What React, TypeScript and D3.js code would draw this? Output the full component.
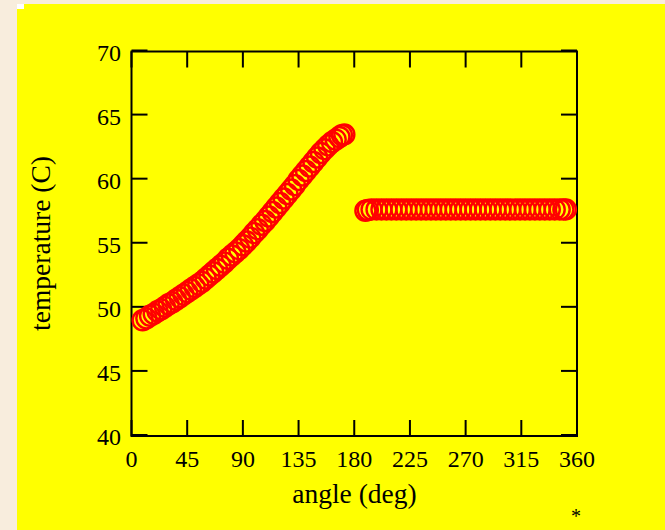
import React from "react";
import * as d3 from "d3";

const angles1 = [9, 12, 15, 18, 21, 24, 27, 30, 33, 36, 39, 42, 45, 48, 51, 54, 57, 60, 63, 66, 69, 72, 75, 78, 81, 84, 87, 90, 93, 96, 99, 102, 105, 108, 111, 114, 117, 120, 123, 126, 129, 132, 135, 138, 141, 144, 147, 150, 153, 156, 159, 162, 165, 168, 170, 172];
const temps1 = [48.95, 49.1, 49.3, 49.45, 49.65, 49.8, 50.0, 50.2, 50.35, 50.55, 50.75, 50.95, 51.15, 51.35, 51.55, 51.75, 51.95, 52.2, 52.45, 52.7, 52.95, 53.2, 53.45, 53.75, 54.0, 54.25, 54.5, 54.8, 55.1, 55.4, 55.75, 56.05, 56.4, 56.7, 57.05, 57.4, 57.75, 58.1, 58.45, 58.8, 59.15, 59.5, 59.9, 60.25, 60.6, 60.95, 61.3, 61.65, 62.0, 62.3, 62.6, 62.85, 63.05, 63.25, 63.4, 63.45];

const angles2 = [189, 191, 194, 198, 202, 206, 210, 214, 218, 222, 226, 230, 234, 238, 242, 246, 250, 254, 258, 262, 266, 270, 274, 278, 282, 286, 290, 294, 298, 302, 306, 310, 314, 318, 322, 326, 330, 334, 338, 342, 346, 349, 351];
const temps2 = [57.5, 57.55, 57.6, 57.6, 57.6, 57.6, 57.6, 57.6, 57.6, 57.6, 57.6, 57.6, 57.6, 57.6, 57.6, 57.6, 57.6, 57.6, 57.6, 57.6, 57.6, 57.6, 57.6, 57.6, 57.6, 57.6, 57.6, 57.6, 57.6, 57.6, 57.6, 57.6, 57.6, 57.6, 57.6, 57.6, 57.6, 57.6, 57.6, 57.6, 57.6, 57.6, 57.6];

const xTicks = [0, 45, 90, 135, 180, 225, 270, 315, 360];
const yTicks = [40, 45, 50, 55, 60, 65, 70];

const xLabel = "angle (deg)";
const yLabel = "temperature (C)";

export default function App() {
  const W = 665, H = 530;
  const left = 131.5, right = 577, top = 51.5, bottom = 436;
  const x = d3.scaleLinear().domain([0, 360]).range([left, right]);
  const y = d3.scaleLinear().domain([40, 70]).range([435, 50.5]);
  const font = "'Liberation Serif', 'Times New Roman', serif";
  const tickLen = 16;

  const pts = [
    ...angles1.map((a, i) => [a, temps1[i]]),
    ...angles2.map((a, i) => [a, temps2[i]]),
  ];

  return (
    <svg width={W} height={H} style={{ position: "absolute", left: 0, top: 0 }}>
      <rect x={0} y={0} width={W} height={H} fill="#f8eddd" />
      <rect x={17} y={4} width={W - 17} height={H - 4} fill="#ffff00" />
      <rect x={17} y={4} width={7} height={5} fill="#ffffff" />

      {xTicks.map((t) => (
        <g key={"x" + t}>
          <line x1={x(t)} x2={x(t)} y1={bottom} y2={bottom - tickLen} stroke="#000" strokeWidth={2} />
          <line x1={x(t)} x2={x(t)} y1={top} y2={top + tickLen} stroke="#000" strokeWidth={2} />
          <text x={x(t)} y={467} textAnchor="middle" fontFamily={font} fontSize={24} fill="#000">{t}</text>
        </g>
      ))}
      {yTicks.map((t) => (
        <g key={"y" + t}>
          <line x1={left} x2={left + tickLen} y1={y(t)} y2={y(t)} stroke="#000" strokeWidth={2} />
          <line x1={right} x2={right - tickLen} y1={y(t)} y2={y(t)} stroke="#000" strokeWidth={2} />
          <text x={121} y={y(t) + 10} textAnchor="end" fontFamily={font} fontSize={24} fill="#000">{t}</text>
        </g>
      ))}

      <rect x={left} y={top} width={right - left} height={bottom - top} fill="none" stroke="#000" strokeWidth={2} />

      {pts.map(([a, v], i) => (
        <circle key={i} cx={x(a)} cy={y(v)} r={10} fill="none" stroke="#ff0000" strokeWidth={2.4} />
      ))}

      <text x={354.5} y={503} textAnchor="middle" fontFamily={font} fontSize={27.5} fill="#000">{xLabel}</text>
      <text transform="translate(50,243.5) rotate(-90)" textAnchor="middle" fontFamily={font} fontSize={27.5} fill="#000">{yLabel}</text>
      <text x={576} y={523} textAnchor="middle" fontFamily={font} fontSize={20} fill="#000">*</text>
    </svg>
  );
}
